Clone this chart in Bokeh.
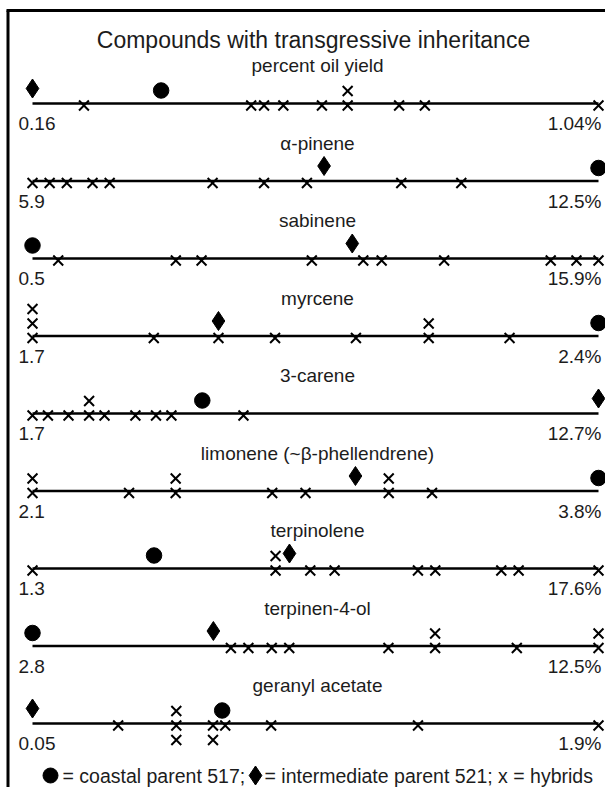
from bokeh.plotting import figure
from bokeh.models import Range1d
from bokeh.core.properties import value
from bokeh.embed import file_html
from bokeh.resources import INLINE

# ---------------- data ----------------
chart_title = "Compounds with transgressive inheritance"
compounds = ["percent oil yield", "α-pinene", "sabinene", "myrcene", "3-carene",
             "limonene (~β-phellendrene)", "terpinolene", "terpinen-4-ol", "geranyl acetate"]
range_min = [0.16, 5.9, 0.5, 1.7, 1.7, 2.1, 1.3, 2.8, 0.05]
range_max = [1.04, 12.5, 15.9, 2.4, 12.7, 3.8, 17.6, 12.5, 1.9]
min_labels = ["0.16", "5.9", "0.5", "1.7", "1.7", "2.1", "1.3", "2.8", "0.05"]
max_labels = ["1.04%", "12.5%", "15.9%", "2.4%", "12.7%", "3.8%", "17.6%", "12.5%", "1.9%"]

coastal_517 = [0.36, 12.5, 0.5, 2.4, 5.0, 3.8, 4.8, 2.8, 0.67]
intermediate_521 = [0.16, 9.3, 9.2, 1.93, 12.7, 3.07, 8.7, 5.9, 0.05]

hybrids_oil_yield = [0.24, 0.50, 0.52, 0.55, 0.61, 0.65, 0.65, 0.73, 0.77, 1.04]
hybrids_a_pinene = [5.9, 6.1, 6.3, 6.6, 6.8, 8.0, 8.6, 9.1, 10.2, 10.9]
hybrids_sabinene = [1.2, 4.4, 5.1, 8.1, 9.5, 10.0, 11.7, 14.6, 15.3, 15.9]
hybrids_myrcene = [1.70, 1.70, 1.70, 1.85, 1.93, 2.00, 2.10, 2.19, 2.19, 2.29]
hybrids_3_carene = [1.7, 2.0, 2.4, 2.8, 2.8, 3.1, 3.7, 4.1, 4.4, 5.8]
hybrids_limonene = [2.10, 2.10, 2.39, 2.53, 2.53, 2.82, 2.92, 3.17, 3.17, 3.30]
hybrids_terpinolene = [1.3, 8.3, 8.3, 9.3, 10.0, 12.4, 12.9, 14.8, 15.3, 17.6]
hybrids_terpinen_4_ol = [6.2, 6.5, 6.9, 7.2, 8.9, 9.7, 9.7, 11.1, 12.5, 12.5]
hybrids_geranyl_acetate = [0.33, 0.52, 0.52, 0.52, 0.64, 0.64, 0.68, 0.83, 1.31, 1.9]

hybrids = [hybrids_oil_yield, hybrids_a_pinene, hybrids_sabinene, hybrids_myrcene,
           hybrids_3_carene, hybrids_limonene, hybrids_terpinolene,
           hybrids_terpinen_4_ol, hybrids_geranyl_acetate]

legend_coastal = "= coastal parent 517;"
legend_rest = "= intermediate parent 521; x = hybrids"

# ---------------- layout / style ----------------
W, H = 605, 787
LINE_X0, LINE_X1 = 32, 598          # canvas px of each row's min / max
LINE_PX = LINE_X1 - LINE_X0
ROW0_Y, ROW_STEP = 103, 77.5
STACK_PX = 14.5
FONT = value("Liberation Sans")
TXT = "#1c1c1c"
stack_both_ways = [False] * 8 + [True]

p = figure(width=W, height=H, output_backend="svg", toolbar_location=None,
           x_range=Range1d(0, W), y_range=Range1d(H, 0),
           x_axis_type=None, y_axis_type=None, min_border=0,
           outline_line_color=None, background_fill_color="white",
           border_fill_color="white")

# frame (left / top border)
p.segment(x0=[7.5], y0=[10], x1=[7.5], y1=[H + 5], line_color="black", line_width=3)
p.segment(x0=[6], y0=[10], x1=[W + 5], y1=[10], line_color="black", line_width=3)

p.text(x=[313], y=[39], text=[chart_title], text_font=FONT, text_font_size="23px",
       text_align="center", text_baseline="middle", text_color=TXT)


def stack_levels(vals, lo, hi, parents, both):
    used = {}
    levels = []
    seq = [0, 1, -1, 2, -2, 3] if both else [0, 1, 2, 3, 4]
    for v in vals:
        taken = used.setdefault(v, [])
        for lv in seq:
            if lv in taken:
                continue
            if lv == 1 and any(abs(v - pv) / (hi - lo) * LINE_PX < 10 for pv in parents):
                continue
            break
        taken.append(lv)
        levels.append(lv)
    return levels


for i, name in enumerate(compounds):
    lo, hi = range_min[i], range_max[i]
    k = (hi - lo) / LINE_PX
    rname = f"row{i}"
    p.extra_x_ranges[rname] = Range1d(lo - LINE_X0 * k, hi + (W - LINE_X1) * k)
    y0 = ROW0_Y + i * ROW_STEP

    p.text(x=[317], y=[y0 - 38], text=[name], text_font=FONT, text_font_size="19px",
           text_align="center", text_baseline="middle", text_color=TXT)

    p.segment(x0=[lo], y0=[y0], x1=[hi], y1=[y0], x_range_name=rname,
              line_color="black", line_width=2.6)

    p.text(x=[lo], y=[y0 + 20], text=[min_labels[i]], x_range_name=rname,
           x_offset=-14, text_font=FONT, text_font_size="19px",
           text_align="left", text_baseline="middle", text_color=TXT)
    p.text(x=[hi], y=[y0 + 20], text=[max_labels[i]], x_range_name=rname,
           x_offset=3, text_font=FONT, text_font_size="19px",
           text_align="right", text_baseline="middle", text_color=TXT)

    parents = [coastal_517[i], intermediate_521[i]]
    lv = stack_levels(hybrids[i], lo, hi, parents, stack_both_ways[i])
    p.scatter(x=hybrids[i], y=[y0 + 2 - l * STACK_PX for l in lv], x_range_name=rname,
              marker="x", size=14, line_color="black", line_width=2)

    p.scatter(x=[coastal_517[i]], y=[y0 - 13], x_range_name=rname, marker="circle",
              size=15.5, fill_color="black", line_color="black")
    p.scatter(x=[intermediate_521[i]], y=[y0 - 15], x_range_name=rname, marker="diamond",
              size=19, fill_color="black", line_color="black")

# legend line
LEG_Y = 775
p.scatter(x=[50], y=[LEG_Y], marker="circle", size=15, fill_color="black", line_color="black")
p.text(x=[62], y=[LEG_Y], text=[legend_coastal], text_font=FONT, text_font_size="19.5px",
       text_align="left", text_baseline="middle", text_color=TXT)
p.scatter(x=[255], y=[LEG_Y], marker="diamond", size=19, fill_color="black", line_color="black")
p.text(x=[264], y=[LEG_Y], text=[legend_rest], text_font=FONT, text_font_size="19.5px",
       text_align="left", text_baseline="middle", text_color=TXT)

open("out.html", "w").write(file_html(p, INLINE))
